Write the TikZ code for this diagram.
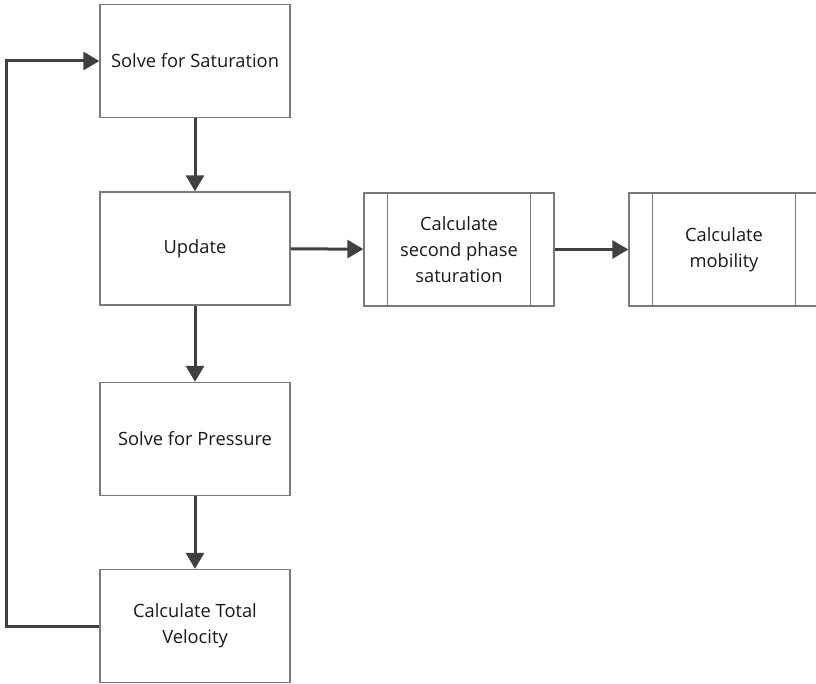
\documentclass[tikz,border=0pt]{standalone}
\usepackage{fontspec}
\setmainfont{Open Sans}
\usetikzlibrary{arrows.meta}
\definecolor{boxline}{HTML}{7A7A7A}
\definecolor{arrline}{HTML}{404040}
\tikzset{
  flowbox/.style={draw=boxline, line width=1.3pt, fill=white, minimum width=190pt, minimum height=113pt,
    inner sep=0pt, align=center, font=\fontsize{18.3}{26}\selectfont, text=black!90},
  predef/.style={flowbox},
  conn/.style={draw=arrline, line width=3pt, -{Triangle[length=16pt,width=18pt]}},
}
\begin{document}
\begin{tikzpicture}[x=1pt,y=-1pt]
\useasboundingbox (0,0) rectangle (816,684);
\node[flowbox] (sat) at (195,61) {Solve for Saturation};
\node[flowbox] (upd) at (195,248.5) {Update};
\node[flowbox] (pre) at (195,439) {Solve for Pressure};
\node[flowbox] (vel) at (195,626) {Calculate Total\\Velocity};
\node[predef] (sec) at (459,249.5) {Calculate\\second phase\\saturation};
\node[predef] (mob) at (724,249.5) {Calculate\\mobility};
\foreach \n in {sec,mob}{
  \draw[boxline, line width=1.3pt] ([xshift=24pt]\n.north west) -- ([xshift=24pt]\n.south west);
  \draw[boxline, line width=1.3pt] ([xshift=-24pt]\n.north east) -- ([xshift=-24pt]\n.south east);
}
\coordinate (loop) at (6,0);
\draw[conn] (sat) -- (upd);
\draw[conn] (upd) -- (pre);
\draw[conn] (pre) -- (vel);
\draw[conn] (upd) -- (sec);
\draw[conn] (sec) -- (mob);
\draw[conn] (vel.west) -- (vel.west -| loop) -- (sat.west -| loop) -- (sat.west);
\end{tikzpicture}
\end{document}
